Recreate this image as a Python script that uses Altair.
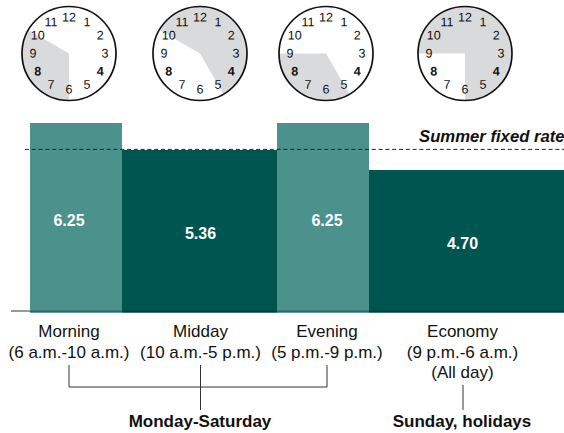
import altair as alt
import pandas as pd

# Time-of-use periods: rate in cents per kWh, hours measured from midnight
periods = ["Morning", "Midday", "Evening", "Economy"]
rates = [6.25, 5.36, 6.25, 4.70]
start_hours = [6, 10, 17, 21]
end_hours = [10, 17, 21, 30]
hour_ranges = ["(6 a.m.-10 a.m.)", "(10 a.m.-5 p.m.)", "(5 p.m.-9 p.m.)", "(9 p.m.-6 a.m.)"]
period_colors = ["#4b918c", "#005550", "#4b918c", "#005550"]
summer_rate = 5.38
clock_hours = list(range(1, 13))
bold_hours = [4, 8]

# Layout of the page, in pixels
WIDTH, HEIGHT = 564, 433
COLUMN_X = [69, 200.5, 327, 462.5]
CLOCK_X = [69, 200, 326, 465]
CLOCK_Y = 53.5
CLOCK_R = 47
NUMERAL_R = 36
FONT = "Liberation Sans"

periods_df = pd.DataFrame({
    "period": periods,
    "rate": rates,
    "mid": [r / 2 for r in rates],
    "start": start_hours,
    "end": end_hours,
    "range": hour_ranges,
    "color": period_colors,
    "cx": COLUMN_X,
    "clock_x": CLOCK_X,
})

numerals_df = pd.DataFrame(
    [{"hour": h, "clock_x": cx, "strong": h in bold_hours}
     for cx in CLOCK_X for h in clock_hours]
)

pixel_x = alt.X("px:Q", scale=None, axis=None)
pixel_y = alt.Y("py:Q", scale=None, axis=None)


def pixel_rules(rows, color, width):
    """Straight annotation lines given by their end points in pixels."""
    df = pd.DataFrame(rows, columns=["px", "px2", "py", "py2"])
    return alt.Chart(df).mark_rule(color=color, strokeWidth=width).encode(
        x=pixel_x, x2="px2:Q", y=pixel_y, y2="py2:Q"
    )


def pixel_text(rows, size, weight="normal", color="#111111", style="normal", align="center"):
    df = pd.DataFrame(rows, columns=["label", "px", "py"])
    return alt.Chart(df).mark_text(
        font=FONT, fontSize=size, fontWeight=weight, fontStyle=style,
        color=color, align=align, baseline="alphabetic",
    ).encode(x=pixel_x, y=pixel_y, text="label:N")


# Rate bars: width follows the hours covered, height the rate
x_hours = alt.X(
    "start:Q", axis=None,
    scale=alt.Scale(domain=[6, 10, 17, 21, 30], range=[30, 122, 277, 369, 564]),
)
y_scale = alt.Scale(domain=[0, 6.25], range=[312.6, 123])
y_rate = alt.Y("rate:Q", axis=None, scale=y_scale)
bars = alt.Chart(periods_df).mark_rect().encode(
    x=x_hours, x2="end:Q", y=y_rate, y2=alt.datum(0),
    color=alt.Color("color:N", scale=None),
)

# Clock faces: shaded wedge, ring and numerals
wedges = (
    alt.Chart(periods_df)
    .transform_calculate(
        a0="datum.start * PI / 6",
        a1="datum.end * PI / 6",
        py=f"{CLOCK_Y}",
    )
    .mark_arc(color="#d9dadc", radius=CLOCK_R)
    .encode(
        x=alt.X("clock_x:Q", scale=None, axis=None),
        y=pixel_y,
        theta=alt.Theta("a0:Q", scale=None),
        theta2="a1:Q",
    )
)
rings = (
    alt.Chart(periods_df)
    .transform_calculate(py=f"{CLOCK_Y}")
    .mark_point(shape="circle", filled=False, size=(2 * CLOCK_R) ** 2,
                stroke="#111111", strokeWidth=1.7, opacity=1)
    .encode(x=alt.X("clock_x:Q", scale=None, axis=None), y=pixel_y)
)


def numeral_layer(weight, test):
    return (
        alt.Chart(numerals_df)
        .transform_filter(test)
        .transform_calculate(
            px=f"datum.clock_x + {NUMERAL_R} * sin(datum.hour * PI / 6)",
            py=f"{CLOCK_Y} - {NUMERAL_R} * cos(datum.hour * PI / 6)",
        )
        .mark_text(font=FONT, fontSize=12.5, fontWeight=weight, color="#111111",
                   align="center", baseline="middle", angle=0.1)
        .encode(x=pixel_x, y=pixel_y, text="hour:Q")
    )


numerals_plain = numeral_layer("normal", "!datum.strong")
numerals_bold = numeral_layer("bold", "datum.strong")

# Values printed at the middle of each bar
value_labels = (
    alt.Chart(periods_df)
    .mark_text(font=FONT, fontSize=16, fontWeight="bold", color="white",
               align="center", baseline="middle", dy=3)
    .encode(x=alt.X("cx:Q", scale=None, axis=None), y=alt.Y("mid:Q", axis=None, scale=y_scale),
            text=alt.Text("rate:Q", format=".2f"))
)

# Summer reference line and its caption
summer = (
    alt.Chart(pd.DataFrame({"rate": [summer_rate]}))
    .mark_rule(color="#222222", strokeWidth=1, strokeDash=[4, 2.8])
    .encode(x=alt.value(25), x2=alt.value(WIDTH), y=y_rate)
)
summer_label = pixel_text([("Summer fixed rate", 419, 141.5)], 16.7, "bold", style="italic", align="left")

# Baseline
baseline = pixel_rules([(11, 30, 311, 311)], "#777777", 1.5)
baseline_dark = pixel_rules([(30, 122, 311.6, 311.6), (277, 369, 311.6, 311.6)], "#2b6a66", 2)
baseline_deep = pixel_rules([(122, 277, 311.6, 311.6), (369, WIDTH, 311.6, 311.6)], "#03403c", 2)

# Period captions under the bars
captions = pixel_text(
    [(p, x, 337) for p, x in zip(periods, COLUMN_X)]
    + [(r, x, 358) for r, x in zip(hour_ranges, COLUMN_X)]
    + [("(All day)", COLUMN_X[3], 378)],
    17,
)

# Brackets grouping the periods by day of week
brackets = pixel_rules(
    [
        (69, 327, 387, 387),
        (69, 69, 365, 387),
        (327, 327, 365, 387),
        (200.5, 200.5, 365, 410),
        (463, 463, 385, 410),
    ],
    "#333333", 1,
)
day_labels = pixel_text(
    [("Monday-Saturday", 200, 427), ("Sunday, holidays", 462, 427)],
    17, "bold",
)

chart = (
    alt.layer(
        bars, summer,
        wedges, rings, numerals_plain, numerals_bold,
        value_labels,
        summer_label, baseline, baseline_dark, baseline_deep,
        captions, brackets, day_labels,
    )
    .resolve_scale(x="independent", y="independent")
    .properties(
        width=WIDTH, height=HEIGHT, padding=0,
        autosize=alt.AutoSizeParams(type="none"),
        background="white",
    )
    .configure_view(stroke=None)
)

chart.save("out.html", embed_options={"renderer": "svg", "actions": False})
